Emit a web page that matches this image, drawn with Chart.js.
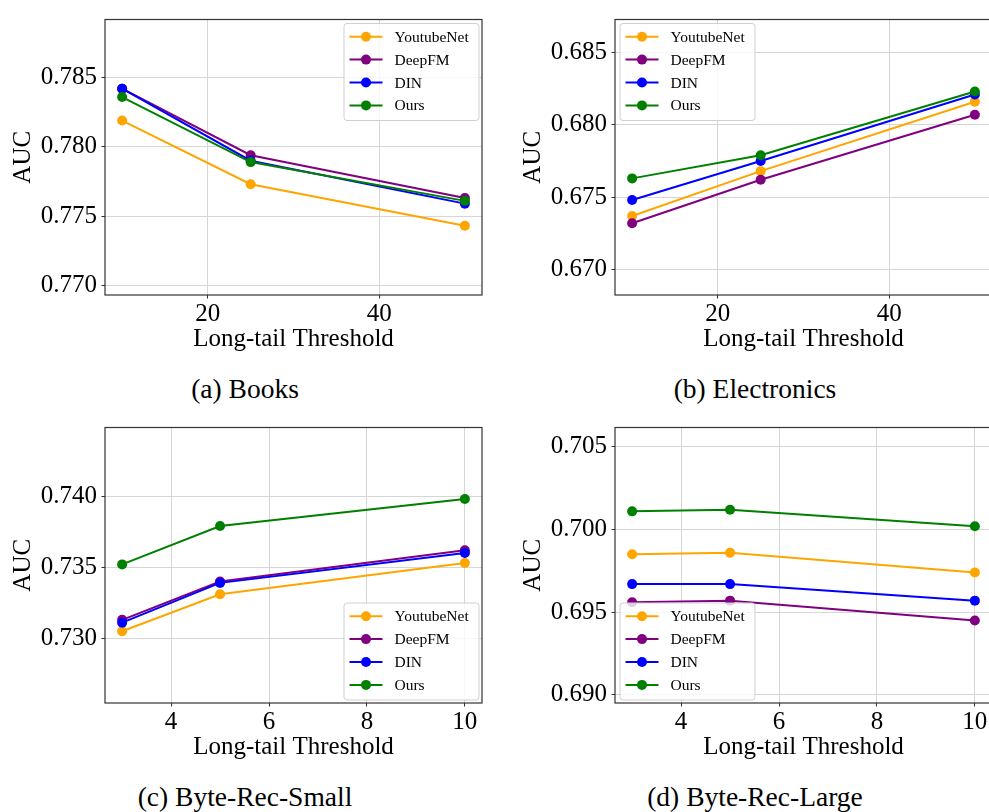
<!DOCTYPE html>
<html>
<head>
<meta charset="utf-8">
<script src="https://cdn.jsdelivr.net/npm/chart.js@4.4.0/dist/chart.umd.min.js"></script>
<style>
  html, body { margin:0; padding:0; background:#fff; width:989px; height:812px; overflow:hidden; }
  body { position:relative; }
  canvas { position:absolute; }
  .cap { position:absolute; width:490px; text-align:center; font-family:"Liberation Serif","Times New Roman",serif; font-size:27.5px; line-height:32px; color:#000; }
</style>
</head>
<body>
<canvas id="ca" width="494" height="360" style="left:0px;top:0px"></canvas>
<canvas id="cb" width="494" height="360" style="left:510px;top:0px"></canvas>
<canvas id="cc" width="494" height="360" style="left:0px;top:408px"></canvas>
<canvas id="cd" width="494" height="360" style="left:510px;top:408px"></canvas>
<div class="cap" style="left:0px;top:373px">(a) Books</div>
<div class="cap" style="left:510px;top:373px">(b) Electronics</div>
<div class="cap" style="left:0px;top:781px">(c) Byte-Rec-Small</div>
<div class="cap" style="left:510px;top:781px">(d) Byte-Rec-Large</div>
<script>
// ---------- data ----------
const seriesNames = ['YoutubeNet', 'DeepFM', 'DIN', 'Ours'];
const xAxisTitle = 'Long-tail Threshold';
const yAxisTitle = 'AUC';

const booksX = [10, 25, 50];
const booksYoutubeNet = [0.7819, 0.7773, 0.7743];
const booksDeepFM = [0.7842, 0.7794, 0.7763];
const booksDIN = [0.7842, 0.7790, 0.7759];
const booksOurs = [0.7836, 0.7789, 0.7761];
const booksXTicks = [20, 40];
const booksYTicks = [0.770, 0.775, 0.780, 0.785];

const elecX = [10, 25, 50];
const elecYoutubeNet = [0.6737, 0.6768, 0.6816];
const elecDeepFM = [0.6732, 0.6762, 0.6807];
const elecDIN = [0.6748, 0.6775, 0.6821];
const elecOurs = [0.6763, 0.6779, 0.6823];
const elecXTicks = [20, 40];
const elecYTicks = [0.670, 0.675, 0.680, 0.685];

const smallX = [3, 5, 10];
const smallYoutubeNet = [0.7305, 0.7331, 0.7353];
const smallDeepFM = [0.7313, 0.7340, 0.7362];
const smallDIN = [0.7311, 0.7339, 0.7360];
const smallOurs = [0.7352, 0.7379, 0.7398];
const smallXTicks = [4, 6, 8, 10];
const smallYTicks = [0.730, 0.735, 0.740];

const largeX = [3, 5, 10];
const largeYoutubeNet = [0.6985, 0.6986, 0.6974];
const largeDeepFM = [0.6956, 0.6957, 0.6945];
const largeDIN = [0.6967, 0.6967, 0.6957];
const largeOurs = [0.7011, 0.7012, 0.7002];
const largeXTicks = [4, 6, 8, 10];
const largeYTicks = [0.690, 0.695, 0.700, 0.705];

// ---------- style ----------
const colors = ['#FFA500', '#800080', '#0000FF', '#008000'];
const FONT = '"Liberation Serif", "Times New Roman", serif';

const boxLegendPlugin = {
  id: 'boxLegend',
  afterDraw(chart, args, opts) {
    const ctx = chart.ctx, a = chart.chartArea;
    // frame
    ctx.save();
    ctx.strokeStyle = '#333333';
    ctx.lineWidth = 1.2;
    ctx.strokeRect(a.left, a.top, a.right - a.left, a.bottom - a.top);
    ctx.restore();
    // legend
    const w = 135, h = 97, m = 3.5;
    let x = (opts.corner[1] === 'l') ? a.left + m + 1 : a.right - m - w;
    let y = (opts.corner[0] === 't') ? a.top + m : a.bottom - m - h;
    ctx.save();
    ctx.beginPath();
    if (ctx.roundRect) ctx.roundRect(x + 0.5, y + 0.5, w, h, 3); else ctx.rect(x + 0.5, y + 0.5, w, h);
    ctx.fillStyle = 'rgba(255,255,255,0.8)';
    ctx.fill();
    ctx.strokeStyle = '#d0d0d0';
    ctx.lineWidth = 1;
    ctx.stroke();
    ctx.font = '15.5px ' + FONT;
    ctx.textBaseline = 'middle';
    ctx.textAlign = 'left';
    chart.data.datasets.forEach((ds, i) => {
      const cy = y + 13.7 + i * 22.9;
      ctx.strokeStyle = ds.borderColor;
      ctx.lineWidth = 2;
      ctx.beginPath();
      ctx.moveTo(x + 6, cy);
      ctx.lineTo(x + 39, cy);
      ctx.stroke();
      ctx.fillStyle = ds.backgroundColor;
      ctx.beginPath();
      ctx.arc(x + 22.5, cy, 5, 0, Math.PI * 2);
      ctx.fill();
      ctx.fillStyle = '#000';
      ctx.fillText(ds.label, x + 51, cy + 1);
    });
    ctx.restore();
  }
};

function makeChart(id, xs, seriesList, xTicks, yTicks, xMin, xMax, yMin, yMax, corner) {
  const datasets = seriesList.map((vals, i) => ({
    label: seriesNames[i],
    data: xs.map((x, j) => ({ x: x, y: vals[j] })),
    borderColor: colors[i],
    backgroundColor: colors[i],
    pointBackgroundColor: colors[i],
    pointBorderColor: colors[i],
    borderWidth: 2,
    pointRadius: 5,
    pointBorderWidth: 0,
    tension: 0,
    order: seriesList.length - 1 - i
  }));
  const gridOpts = { color: '#d6d6d6', lineWidth: 1, drawTicks: true, tickLength: 3.5, tickColor: '#333333' };
  return new Chart(document.getElementById(id), {
    type: 'line',
    data: { datasets },
    options: {
      responsive: false,
      animation: false,
      events: [],
      layout: { padding: { left: 0, top: 14, right: 12, bottom: 0 } },
      plugins: { legend: { display: false }, tooltip: { enabled: false }, boxLegend: { corner } },
      scales: {
        x: {
          type: 'linear', min: xMin, max: xMax,
          afterBuildTicks: s => { s.ticks = xTicks.map(v => ({ value: v })); },
          afterFit: s => { s.height = 65; },
          grid: gridOpts,
          border: { display: false },
          ticks: { font: { family: FONT, size: 25 }, color: '#000', padding: 1, maxRotation: 0, callback: v => String(v) },
          title: { display: true, text: xAxisTitle, color: '#000', font: { family: FONT, size: 25 }, padding: { top: 0, bottom: 6 } }
        },
        y: {
          type: 'linear', min: yMin, max: yMax,
          afterBuildTicks: s => { s.ticks = yTicks.map(v => ({ value: v })); },
          afterFit: s => { s.width = 105; },
          grid: gridOpts,
          border: { display: false },
          ticks: { font: { family: FONT, size: 25 }, color: '#000', padding: 4.5, callback: v => Number(v).toFixed(3) },
          title: { display: true, text: yAxisTitle, color: '#000', font: { family: FONT, size: 25 }, padding: { top: 8, bottom: 0 } }
        }
      }
    },
    plugins: [boxLegendPlugin]
  });
}

makeChart('ca', booksX, [booksYoutubeNet, booksDeepFM, booksDIN, booksOurs], booksXTicks, booksYTicks, 8, 52, 0.7693, 0.7892, 'tr');
makeChart('cb', elecX, [elecYoutubeNet, elecDeepFM, elecDIN, elecOurs], elecXTicks, elecYTicks, 8, 52, 0.66824, 0.68728, 'tl');
makeChart('cc', smallX, [smallYoutubeNet, smallDeepFM, smallDIN, smallOurs], smallXTicks, smallYTicks, 2.65, 10.35, 0.72545, 0.74483, 'br');
makeChart('cd', largeX, [largeYoutubeNet, largeDeepFM, largeDIN, largeOurs], largeXTicks, largeYTicks, 2.65, 10.35, 0.68951, 0.70617, 'bl');
</script>
</body>
</html>
